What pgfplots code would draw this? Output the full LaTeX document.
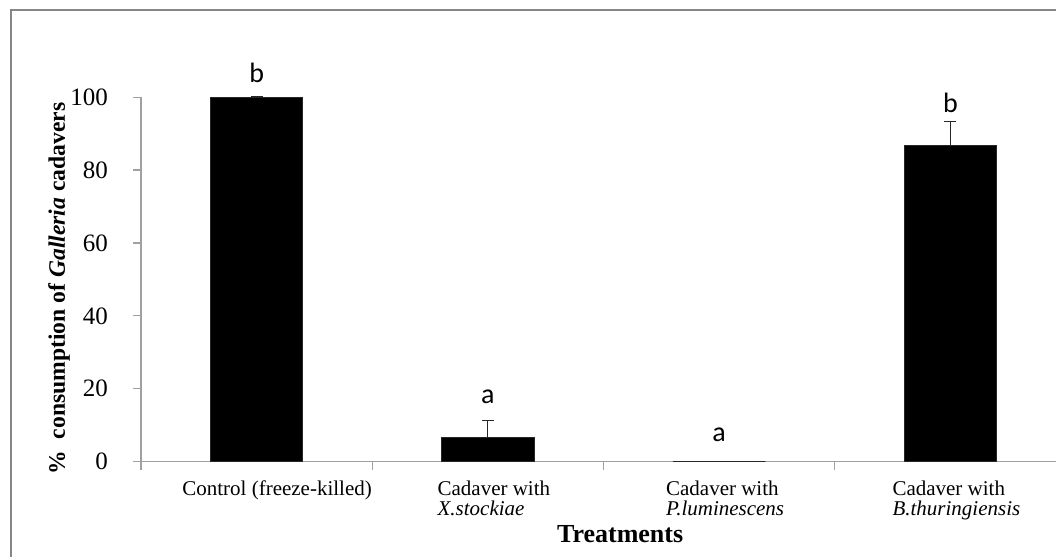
\documentclass[border=0pt]{standalone}
\usepackage{pgfplots}
\pgfplotsset{compat=1.18}
\usepackage{fontspec}
\setmainfont{Liberation Serif}
\newfontfamily\calibri{Carlito}
\definecolor{framegray}{RGB}{134,134,134}
\definecolor{axgray}{RGB}{160,160,160}
\begin{document}
\begin{tikzpicture}
\useasboundingbox (0,0) rectangle (528pt,278.5pt);
\clip (0,0) rectangle (528pt,278.5pt);
\draw[framegray, line width=0.6pt] (5.5pt,-5pt) -- (5.5pt,273.5pt) -- (540pt,273.5pt);
\begin{axis}[
  at={(70.5pt,47.65pt)}, anchor=south west,
  scale only axis, width=462.5pt, height=182.25pt,
  xmin=-0.5, xmax=3.5, ymin=0, ymax=100,
  axis x line*=bottom, axis y line*=left,
  axis line style={axgray, line width=0.6pt},
  ytick={0,20,...,100},
  xtick={0,1,2,3},
  xticklabels={{\hspace*{14.5pt}Control (freeze-killed)}, {Cadaver with\\\textit{X.stockiae}}, {Cadaver with\\\textit{P.luminescens}}, {Cadaver with\\\textit{B.thuringiensis}}},
  minor xtick={-0.5,0.5,1.5,2.5,3.5},
  tick align=outside,
  major tick length=4pt, minor tick length=4pt,
  tick style={axgray, line width=0.6pt},
  major x tick style={draw=none},
  /pgf/number format/assume math mode=true,
  yticklabel style={font=\fontsize{12.5}{14}\selectfont, xshift=-9pt},
  xticklabel style={align=left, font=\fontsize{10.5}{10}\selectfont, anchor=north, yshift=-2pt, xshift=3pt},
  xlabel={\textbf{Treatments}},
  ylabel={\textbf{\%\ \ consumption of \textit{Galleria} cadavers}},
  every axis x label/.style={at={(axis description cs:0.518,-0.223)}, anchor=base, font=\fontsize{13}{15}\selectfont},
  every axis y label/.style={at={(axis description cs:-0.0822,0.475)}, anchor=base, rotate=90, font=\fontsize{11.8}{14}\selectfont},
  clip=false,
]
\addplot[ybar, bar width=0.4, fill=black, draw=black!85,
  error bars/.cd, y dir=plus, y explicit,
  error bar style={black!85, line width=0.6pt},
  error mark options={rotate=90, mark size=3pt, black!85, line width=0.6pt}]
  coordinates {(0,100) +- (0,0.2) (1,6.7) +- (0,4.7) (2,0) +- (0,0) (3,86.7) +- (0,6.6)};
\node[anchor=base, font=\calibri\fontsize{14}{16}\selectfont] at (axis cs:0,103.9) {b};
\node[anchor=base, font=\calibri\fontsize{14}{16}\selectfont] at (axis cs:1,16.0) {a};
\node[anchor=base, font=\calibri\fontsize{14}{16}\selectfont] at (axis cs:2,5.5) {a};
\node[anchor=base, font=\calibri\fontsize{14}{16}\selectfont] at (axis cs:3,95.7) {b};
\end{axis}
\end{tikzpicture}
\end{document}
